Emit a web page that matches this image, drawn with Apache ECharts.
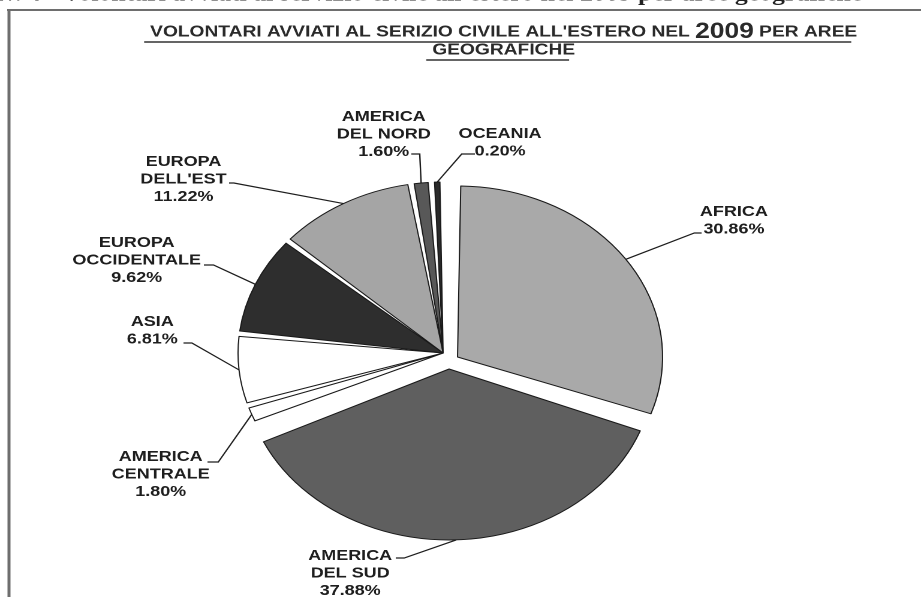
<!DOCTYPE html>
<html>
<head>
<meta charset="utf-8">
<script src="https://cdn.jsdelivr.net/npm/echarts@6/dist/echarts.min.js"></script>
<style>
html,body{margin:0;padding:0;background:#fff;}
#wrap{width:921px;height:597px;overflow:hidden;position:relative;background:#fff;}
#c{width:768px;height:597px;transform:scaleX(1.19922);transform-origin:0 0;}
</style>
</head>
<body>
<div id="wrap"><div id="c"></div></div>
<script>
// ---- data ----
const categories = ['AFRICA', 'AMERICA DEL SUD', 'AMERICA CENTRALE', 'ASIA', 'EUROPA OCCIDENTALE', "EUROPA DELL'EST", 'AMERICA DEL NORD', 'OCEANIA'];
const values = [30.86, 37.88, 1.80, 6.81, 9.62, 11.22, 1.60, 0.20];
const titleLine1a = "VOLONTARI AVVIATI AL SERIZIO CIVILE ALL'ESTERO NEL ";
const titleYear = '2009';
const titleLine1b = ' PER AREE';
const titleLine2 = 'GEOGRAFICHE';
const topCaption = "Tav. 4 - Volontari avviati al servizio civile all'estero nel 2009 per aree geografiche";

// ---- styles ----
const sliceColors = {
  'AFRICA': '#a9a9a9', 'AMERICA DEL SUD': '#5f5f5f', 'AMERICA CENTRALE': '#ffffff', 'ASIA': '#ffffff',
  'EUROPA OCCIDENTALE': '#2e2e2e', "EUROPA DELL'EST": '#a5a5a5', 'AMERICA DEL NORD': '#585858', 'OCEANIA': '#2a2a2a'
};
const pieCenter = [369.5, 353];
const pieRadius = 171;
// exploded slices: offset of their centre (chart logical px)
const explodeOffset = {'AFRICA': [12, 4], 'AMERICA DEL SUD': [5, 16]};
// label placement (chart logical coords, before horizontal stretch)
const labelPlace = {
  'AFRICA': {x: 612, y: 203, k: [579, 233], e: [585, 233]},
  'AMERICA DEL SUD': {x: 292, y: 547, k: [337, 558], e: [330, 558]},
  'AMERICA CENTRALE': {x: 134, y: 448, k: [182, 462], e: [173, 462]},
  'ASIA': {x: 127, y: 313, k: [160, 343], e: [153, 343]},
  'EUROPA OCCIDENTALE': {x: 114, y: 234, k: [178, 265], e: [170, 265]},
  "EUROPA DELL'EST": {x: 153, y: 153, k: [195, 183], e: [191, 183]},
  'AMERICA DEL NORD': {x: 320, y: 108, k: [350, 154], e: [343, 154]},
  'OCEANIA': {x: 417, y: 125, k: [385, 154], e: [396, 154]}
};

function measure(text, font) {
  const cv = document.createElement('canvas').getContext('2d');
  cv.font = font;
  return cv.measureText(text).width;
}
const tFont = 'bold 16px "Liberation Sans"';
const yFont = 'bold 22px "Liberation Sans"';
const w1 = measure(titleLine1a, tFont) + measure(titleYear, yFont) + measure(titleLine1b, tFont);
const w2 = measure(titleLine2, tFont);
const tcx = 415;

const hidden = 'rgba(0,0,0,0)';
function makeSeries(visible, center) {
  return {
    type: 'pie',
    center: center,
    radius: pieRadius,
    startAngle: 90,
    clockwise: true,
    padAngle: 1.8,
    minAngle: 1.5,
    selectedMode: false,
    avoidLabelOverlap: false,
    emphasis: {disabled: true},
    silent: true,
    itemStyle: {borderColor: '#1a1a1a', borderWidth: 1},
    label: {
      show: true,
      position: 'outside',
      formatter: function (p) { return p.name.replace(' ', '\n') + '\n' + p.value.toFixed(2) + '%'; },
      fontFamily: 'Liberation Sans',
      fontWeight: 'bold',
      fontSize: 15,
      lineHeight: 17.5,
      color: '#1e1e1e',
      align: 'center'
    },
    labelLine: {show: true, smooth: false, lineStyle: {color: '#1e1e1e', width: 1.2}},
    labelLayout: function (p) {
      const name = categories[p.dataIndex];
      const L = labelPlace[name];
      const res = {x: L.x, y: L.y, align: 'center', verticalAlign: 'top'};
      if (p.labelLinePoints && p.labelLinePoints.length) {
        res.labelLinePoints = [p.labelLinePoints[0], L.k, L.e];
      }
      return res;
    },
    data: categories.map(function (c, i) {
      const show = visible(c);
      return show
        ? {name: c, value: values[i], itemStyle: {color: sliceColors[c]}}
        : {name: c, value: values[i], itemStyle: {color: hidden, borderWidth: 0},
           label: {show: false}, labelLine: {show: false}};
    })
  };
}

const series = [makeSeries(function (c) { return !explodeOffset[c]; }, pieCenter)];
Object.keys(explodeOffset).forEach(function (name) {
  const o = explodeOffset[name];
  series.push(makeSeries(function (c) { return c === name; }, [pieCenter[0] + o[0], pieCenter[1] + o[1]]));
});

const chart = echarts.init(document.getElementById('c'), null, {renderer: 'canvas', devicePixelRatio: 2});
const option = {
  animation: false,
  backgroundColor: '#ffffff',
  title: {
    text: '{a|' + titleLine1a + '}{b|' + titleYear + '}{a|' + titleLine1b + '}\n{a|' + titleLine2 + '}',
    left: tcx, top: 18, textAlign: 'center',
    textStyle: {
      rich: {
        a: {fontFamily: 'Liberation Sans', fontWeight: 'bold', fontSize: 16, color: '#2a2a2a', lineHeight: 18},
        b: {fontFamily: 'Liberation Sans', fontWeight: 'bold', fontSize: 22, color: '#2a2a2a', lineHeight: 18}
      }
    }
  },
  graphic: [
    {type: 'line', shape: {x1: 6, y1: 10, x2: 768, y2: 10}, style: {stroke: '#6e6e6e', lineWidth: 2}, silent: true},
    {type: 'line', shape: {x1: 7.5, y1: 10, x2: 7.5, y2: 597}, style: {stroke: '#6e6e6e', lineWidth: 2.5}, silent: true},
    {type: 'line', shape: {x1: tcx - w1 / 2, y1: 42, x2: tcx + w1 / 2, y2: 42}, style: {stroke: '#333', lineWidth: 1.5}, silent: true},
    {type: 'line', shape: {x1: tcx - w2 / 2, y1: 60, x2: tcx + w2 / 2, y2: 60}, style: {stroke: '#333', lineWidth: 1.5}, silent: true},
    {type: 'text', x: 719, y: 6, silent: true,
     style: {text: topCaption, font: 'bold 21.5px "Liberation Serif"', fill: '#222', align: 'right', verticalAlign: 'bottom'}}
  ],
  series: series
};
chart.setOption(option);
</script>
</body>
</html>
